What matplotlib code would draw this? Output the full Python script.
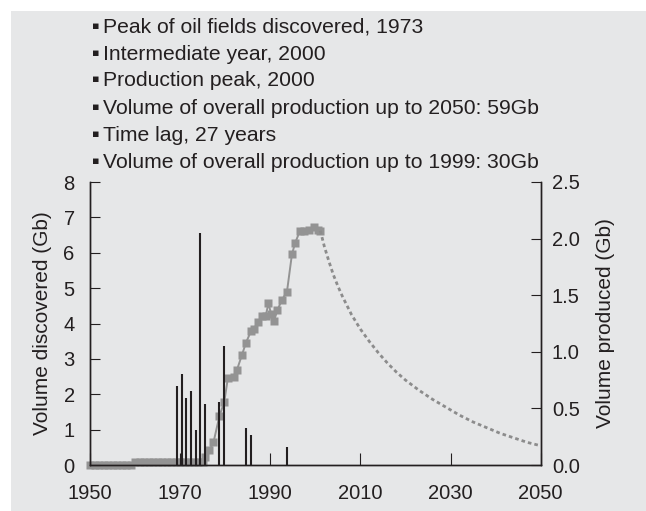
import matplotlib.pyplot as plt
from matplotlib.patches import Rectangle

plt.rcParams['font.family'] = ['Liberation Sans', 'DejaVu Sans']

# Notes shown above the chart
notes = ['Peak of oil fields discovered, 1973',
         'Intermediate year, 2000',
         'Production peak, 2000',
         'Volume of overall production up to 2050: 59Gb',
         'Time lag, 27 years',
         'Volume of overall production up to 1999: 30Gb']

# Volume discovered (Gb), left axis
disc_years = [1969.3, 1970.4, 1971.4, 1972.4, 1973.5, 1974.5, 1975.6,
              1978.7, 1979.7, 1984.6, 1985.7, 1993.7]
disc_vals = [2.23, 2.57, 1.88, 2.10, 0.99, 6.56, 1.72,
             1.79, 3.36, 1.05, 0.85, 0.52]

# Volume produced (Gb), right axis
prod_years = [1950, 1951, 1952, 1953, 1954, 1955, 1956, 1957, 1958, 1959,
              1960, 1961, 1962, 1963, 1964, 1965, 1966, 1967, 1968, 1969,
              1970, 1971, 1972, 1973, 1974, 1975,
              1975.6, 1976.5, 1977.4, 1978.7, 1979.8, 1980.6, 1982.0, 1982.6,
              1983.7, 1984.6, 1985.7, 1986.3, 1987.3, 1988.2, 1989.0, 1989.6,
              1990.2, 1990.8, 1991.6, 1992.6, 1993.7, 1994.8, 1995.5, 1996.6,
              1997.5, 1998.5, 1999.6, 2000.5, 2001.1]
prod_vals = [0.0, 0.0, 0.0, 0.0, 0.0, 0.0, 0.0, 0.0, 0.0, 0.0,
             0.03, 0.03, 0.03, 0.03, 0.03, 0.03, 0.03, 0.03, 0.03, 0.03,
             0.03, 0.03, 0.03, 0.03, 0.03, 0.03,
             0.07, 0.13, 0.20, 0.43, 0.56, 0.77, 0.78, 0.84,
             0.97, 1.08, 1.18, 1.20, 1.26, 1.32, 1.32, 1.43,
             1.33, 1.27, 1.37, 1.46, 1.53, 1.86, 1.96, 2.07,
             2.07, 2.08, 2.10, 2.08, 2.07]

# Forecast production (Gb), right axis
fc_years = [2001.1, 2002, 2003, 2004, 2005, 2006, 2007, 2008, 2010, 2012, 2014,
            2016, 2018, 2020, 2023, 2026, 2029, 2032, 2035, 2038, 2041, 2044,
            2047, 2050]
fc_vals = [2.07, 1.93, 1.80, 1.68, 1.58, 1.49, 1.41, 1.33, 1.20, 1.09, 0.99,
           0.90, 0.82, 0.75, 0.66, 0.58, 0.51, 0.44, 0.38, 0.33, 0.28, 0.24,
           0.20, 0.17]

bg = '#e6e7e8'
dark = '#231f20'
grey = '#939393'
fs = 14.5

fig = plt.figure(figsize=(6.46, 5.11), dpi=100, facecolor='white')
fig.patches.append(Rectangle((11 / 646, 0), 1, 1 - 11 / 511, transform=fig.transFigure,
                             facecolor=bg, edgecolor='none', zorder=-10))

ax = fig.add_axes([90 / 646, 46 / 511, 450.7 / 646, 283 / 511])
ax2 = ax.twinx()
ax.set_zorder(ax2.get_zorder() + 1)
ax.patch.set_visible(False)
ax2.set_facecolor('white')

# production (bottom layer)
ax2.plot(prod_years, prod_vals, color=grey, lw=1.4, marker='s', ms=6.3,
         mec='none', mfc=grey, clip_on=False)
ax2.plot(fc_years, fc_vals, color='#8c8c8c', lw=2.0, dashes=(1.3, 1.1))

# discoveries (top layer)
ax.vlines(disc_years, 0, disc_vals, color=dark, lw=1.5)

ax.set_xlim(1950, 2050)
ax.set_ylim(0, 8)
ax2.set_ylim(0, 2.5)
ax.set_xticks([1950, 1970, 1990, 2010, 2030, 2050])
ax.set_yticks(range(0, 9))
ax2.set_yticks([0, 0.5, 1.0, 1.5, 2.0, 2.5])
ax2.set_yticklabels(['0.0', '0.5', '1.0', '1.5', '2.0', '2.5'])

ax.tick_params(axis='x', direction='in', length=9, width=0.8, color=dark,
               labelsize=fs, pad=14, labelcolor=dark)
ax.tick_params(axis='y', direction='in', length=7, width=0.8, color=dark,
               labelsize=fs, pad=11, labelcolor=dark)
ax2.tick_params(axis='y', direction='in', length=7, width=0.8, color=dark,
                labelsize=fs, pad=8, labelcolor=dark)

for a in (ax, ax2):
    a.spines['top'].set_visible(False)
    for s in ('left', 'right', 'bottom'):
        a.spines[s].set_color(dark)
        a.spines[s].set_linewidth(1.0)

ax.set_ylabel('Volume discovered (Gb)', fontsize=15, color=dark, labelpad=8)
ax2.set_ylabel('Volume produced (Gb)', fontsize=15, color=dark, labelpad=12)

line_y = [27, 54, 80, 108, 135, 162]
for txt, yy in zip(notes, line_y):
    fig.text(103 / 646, 1 - yy / 511, txt, fontsize=15.2, color=dark,
             va='center', ha='left')
    fig.text(96 / 646, 1 - (yy - 1) / 511, '\u25aa', fontsize=8, color=dark,
             va='center', ha='center', family=['DejaVu Sans'])

fig.savefig('out.png', dpi=100, facecolor=fig.get_facecolor())
